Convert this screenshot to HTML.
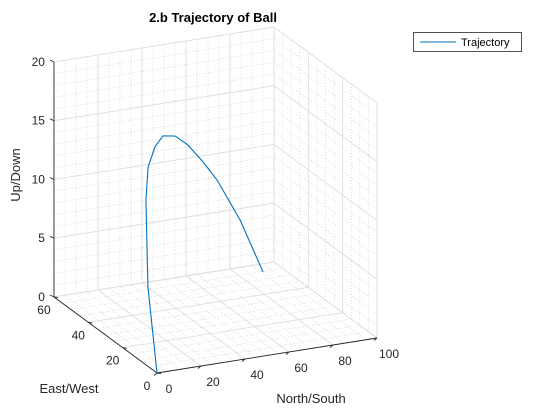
<!DOCTYPE html>
<html><head><meta charset="utf-8"><style>
html,body{margin:0;padding:0;background:#fff;}
svg{display:block;font-family:"Liberation Sans",Arial,sans-serif;}
</style></head><body>
<svg id="chart" width="560" height="420" viewBox="0 0 560 420">
<text x="213" y="22" text-anchor="middle" font-size="13" font-weight="bold" fill="#000">2.b Trajectory of Ball</text>
<g id="grid"></g>
<g id="axes"></g>
<g id="series"></g>
<text x="0" y="0" transform="translate(20,175) rotate(-90)" text-anchor="middle" font-size="13" fill="#262626">Up/Down</text>
<text x="69" y="393" text-anchor="middle" font-size="13" fill="#262626">East/West</text>
<text x="311" y="403" text-anchor="middle" font-size="13" fill="#262626">North/South</text>
<g>
<rect x="413.5" y="32.5" width="108" height="19" fill="#fff" stroke="#262626" stroke-width="0.8"/>
<line x1="420" y1="42" x2="456" y2="42" stroke="#0072BD" stroke-width="1"/>
<text x="461" y="46" font-size="11" fill="#000">Trajectory</text>
</g>
</svg>
<script>
const xs = [0,10.4,24,29.6,35.2,39,43.5,49.7,55.7,62.5,72.9,83.7];
const ys = [0,18.6,37.2,43.1,46.3,46.5,45.2,45.7,44.5,45.1,45,45.5];
const zs = [0,5,10,12,13.2,14,14,13,11.5,9.7,6,1.2];
const xTicks = [0,20,40,60,80,100];
const yTicks = [0,20,40,60];
const zTicks = [0,5,10,15,20];
const xMax=100,yMax=60,zMax=20;
const NS='http://www.w3.org/2000/svg';
function P(x,y,z){return [157+2.2*x-1.717*y, 373-0.35*x-1.267*y-11.75*z];}
function line(g,a,b,stroke,w,dash){
  const l=document.createElementNS(NS,'line');
  l.setAttribute('x1',a[0]);l.setAttribute('y1',a[1]);l.setAttribute('x2',b[0]);l.setAttribute('y2',b[1]);
  l.setAttribute('stroke',stroke);l.setAttribute('stroke-width',w);
  if(dash)l.setAttribute('stroke-dasharray',dash);
  g.appendChild(l);return l;
}
function txt(g,p,s,anchor){
  const t=document.createElementNS(NS,'text');
  t.setAttribute('x',p[0]);t.setAttribute('y',p[1]);t.setAttribute('font-size','12');
  t.setAttribute('fill','#262626');t.setAttribute('text-anchor',anchor);t.textContent=s;
  g.appendChild(t);return t;
}
const grid=document.getElementById('grid');
const minorC='#c8c8c8', majorC='#dedede';
// minor grids
for(let x=0;x<=xMax;x+=5){ if(x%20===0)continue;
  let l=line(grid,P(x,0,0),P(x,yMax,0),minorC,0.6,'1,2');
  l=line(grid,P(x,yMax,0),P(x,yMax,zMax),minorC,0.6,'1,2');}
for(let y=0;y<=yMax;y+=5){ if(y%20===0)continue;
  let l=line(grid,P(0,y,0),P(xMax,y,0),minorC,0.6,'1,2');
  l=line(grid,P(xMax,y,0),P(xMax,y,zMax),minorC,0.6,'1,2');}
for(let z=0;z<=zMax;z+=1){ if(z%5===0)continue;
  let l=line(grid,P(0,yMax,z),P(xMax,yMax,z),minorC,0.6,'1,2');
  l=line(grid,P(xMax,0,z),P(xMax,yMax,z),minorC,0.6,'1,2');}
// major grids
xTicks.forEach(x=>{
  let l=line(grid,P(x,0,0),P(x,yMax,0),majorC,0.9);
  l=line(grid,P(x,yMax,0),P(x,yMax,zMax),majorC,0.9);});
yTicks.forEach(y=>{
  let l=line(grid,P(0,y,0),P(xMax,y,0),majorC,0.9);
  l=line(grid,P(xMax,y,0),P(xMax,y,zMax),majorC,0.9);});
zTicks.forEach(z=>{
  let l=line(grid,P(0,yMax,z),P(xMax,yMax,z),majorC,0.9);
  l=line(grid,P(xMax,0,z),P(xMax,yMax,z),majorC,0.9);});
// axes
const axes=document.getElementById('axes');
let a=line(axes,P(0,0,0),P(xMax,0,0),'#262626',0.9);
a=line(axes,P(0,0,0),P(0,yMax,0),'#262626',0.9);
a=line(axes,P(0,yMax,0),P(0,yMax,zMax),'#262626',0.9);
xTicks.forEach(x=>{const p=P(x,0,0);
  let t=line(axes,p,[p[0]-3,p[1]+2.5],'#262626',0.9);
  t=txt(axes,[p[0]+12,p[1]+20],String(x),'middle');});
yTicks.forEach(y=>{const p=P(0,y,0);
  let t=line(axes,p,[p[0]+4,p[1]+0.7],'#262626',0.9);
  t=txt(axes,[p[0]-10,p[1]+17],String(y),'middle');});
zTicks.forEach(z=>{const p=P(0,yMax,z);
  let t=line(axes,p,[p[0]-4,p[1]-2],'#262626',0.9);
  t=txt(axes,[p[0]-9,p[1]+4],String(z),'end');});
// series
const series=document.getElementById('series');
const pl=document.createElementNS(NS,'polyline');
pl.setAttribute('points',xs.map((x,i)=>P(x,ys[i],zs[i]).join(',')).join(' '));
pl.setAttribute('fill','none');pl.setAttribute('stroke','#0072BD');pl.setAttribute('stroke-width','1.1');


series.appendChild(pl);
</script>
</body></html>
